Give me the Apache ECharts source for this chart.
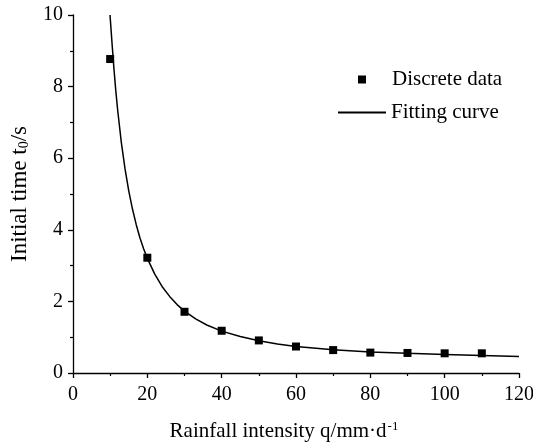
<!DOCTYPE html>
<html>
<head>
<meta charset="utf-8">
<script src="https://cdn.jsdelivr.net/npm/echarts@6/dist/echarts.min.js"></script>
<style>
  html, body { margin: 0; padding: 0; background: #fff; }
  #chart { width: 533px; height: 446px; }
</style>
</head>
<body>
<div id="chart"></div>
<script>
// measured points
const dataQ = [10, 20, 30, 40, 50, 60, 70, 80, 90, 100, 110];
const dataT = [8.77, 3.22, 1.71, 1.18, 0.91, 0.74, 0.64, 0.57, 0.56, 0.55, 0.55];

// fitted curve
const curveQ = [9.96, 10.5, 11, 11.5, 12, 13, 14, 15, 16, 17, 18, 19, 20, 22, 24, 26, 28, 30, 33, 36, 40, 45, 50, 55, 60, 70, 80, 90, 100, 110, 120];
const curveT = [10, 9.21, 8.52, 7.9, 7.36, 6.44, 5.7, 5.09, 4.58, 4.15, 3.78, 3.47, 3.2, 2.76, 2.41, 2.14, 1.91, 1.73, 1.51, 1.34, 1.17, 1.02, 0.9, 0.81, 0.74, 0.65, 0.59, 0.55, 0.52, 0.49, 0.46];

const xTicks = [0, 20, 40, 60, 80, 100, 120];
const yTicks = [0, 2, 4, 6, 8, 10];

const font = '"Liberation Serif", "Times New Roman", serif';
const chart = echarts.init(document.getElementById('chart'));

const axisCommon = {
    type: 'value',
    axisLine: { show: true, lineStyle: { color: '#000', width: 1.3 } },
    axisTick: { show: true, inside: false, length: 5, lineStyle: { color: '#000', width: 1.3 } },
    minorTick: { show: true, splitNumber: 2, length: 3, lineStyle: { color: '#000', width: 1.2 } },
    splitLine: { show: false },
    axisLabel: { color: '#000', fontFamily: font, fontSize: 20 }
};

let option = {
    animation: false,
    grid: { left: 73, right: 14, top: 15, bottom: 73, outerBoundsMode: 'none', containLabel: false },
    xAxis: Object.assign({}, axisCommon, {
        min: xTicks[0],
        max: xTicks[xTicks.length - 1],
        interval: 20,
        axisLabel: Object.assign({}, axisCommon.axisLabel, { margin: 12 }),
        name: 'Rainfall intensity q/mm·d{sup|-1}',
        nameLocation: 'middle',
        nameGap: 47,
        nameTextStyle: {
            color: '#000', fontFamily: font, fontSize: 21,
            padding: [0, 24, 0, 0],
            rich: { sup: { fontSize: 13, fontFamily: font, color: '#000', verticalAlign: 'bottom', padding: [0, 0, 9, 1] } }
        }
    }),
    yAxis: Object.assign({}, axisCommon, {
        min: yTicks[0],
        max: yTicks[yTicks.length - 1],
        interval: 2,
        axisLabel: Object.assign({}, axisCommon.axisLabel, { margin: 10 }),
        name: 'Initial time t{sub|0}/s',
        nameLocation: 'middle',
        nameGap: 42,
        nameTextStyle: {
            color: '#000', fontFamily: font, fontSize: 23,
            rich: { sub: { fontSize: 14, fontFamily: font, color: '#000', verticalAlign: 'bottom', lineHeight: 14 } }
        }
    }),
    legend: [
        {
            data: ['Discrete data'],
            left: 358, top: 69, padding: 0,
            itemWidth: 8, itemHeight: 8,
            textStyle: { color: '#000', fontFamily: font, fontSize: 21, padding: [0, 0, 0, 21] }
        },
        {
            data: ['Fitting curve'],
            left: 337, top: 102, padding: 0,
            itemWidth: 48, itemHeight: 8,
            itemStyle: { opacity: 0 },
            textStyle: { color: '#000', fontFamily: font, fontSize: 21 }
        }
    ],
    series: [
        {
            name: 'Fitting curve',
            type: 'line',
            data: curveQ.map((q, i) => [q, curveT[i]]),
            symbol: 'none',
            smooth: false,
            lineStyle: { color: '#000', width: 1.5 },
            itemStyle: { color: '#000' },
            z: 2
        },
        {
            name: 'Discrete data',
            type: 'scatter',
            data: dataQ.map((q, i) => [q, dataT[i]]),
            symbol: 'rect',
            symbolSize: 8,
            itemStyle: { color: '#000', opacity: 1 },
            z: 3
        }
    ]
};

chart.setOption(option);
</script>
</body>
</html>
